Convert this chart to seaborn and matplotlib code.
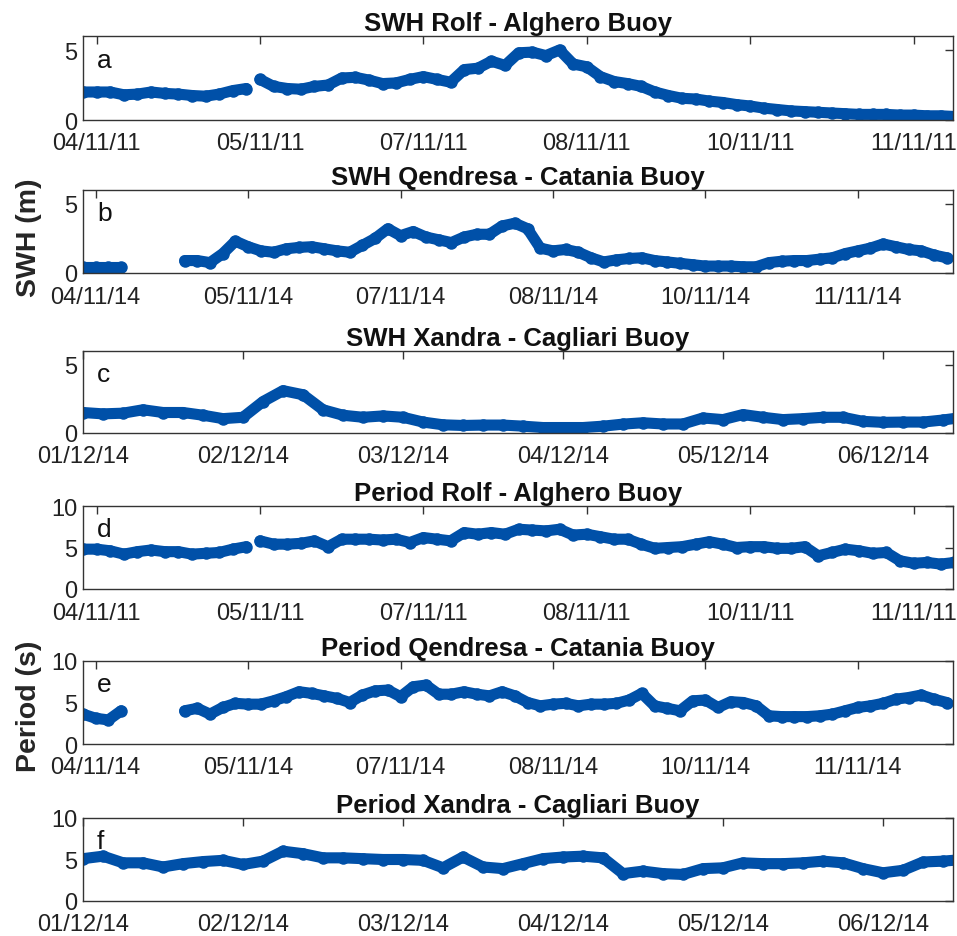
import numpy as np
import pandas as pd
import matplotlib
matplotlib.use('Agg')
import matplotlib.pyplot as plt
import matplotlib.dates as mdates
import seaborn as sns

# buoy records, one sample every 3 hours from the record start
STEP_H = 3

# Rolf - Alghero buoy (Nov 2011)
rolf_start = '2011-11-04 03:00'
rolf_seg_hours = [0, 39]
rolf_swh = [
    [2.0, 2.0, 2.0, 1.8, 1.85, 2.0, 1.9, 1.85, 1.75, 1.7, 1.85, 2.1, 2.25],
    [2.9, 2.4, 2.25, 2.2, 2.4, 2.5, 3.0, 3.05, 2.85, 2.6, 2.65, 2.9, 3.1, 2.9, 2.7,
     3.6, 3.7, 4.2, 3.9, 4.8, 4.85, 4.6, 5.0, 4.0, 3.8, 3.1, 2.75, 2.6, 2.4, 2.0,
     1.75, 1.55, 1.5, 1.35, 1.25, 1.1, 1.0, 0.85, 0.75, 0.65, 0.6, 0.55, 0.5, 0.45,
     0.4, 0.4, 0.4, 0.35, 0.35, 0.3, 0.3, 0.25],
]
rolf_period = [
    [4.8, 4.8, 4.6, 4.2, 4.5, 4.7, 4.5, 4.5, 4.2, 4.3, 4.4, 4.8, 5.1],
    [5.8, 5.4, 5.4, 5.5, 5.8, 5.1, 6.0, 6.0, 6.0, 5.9, 6.0, 5.6, 6.2, 6.0, 5.8,
     6.8, 6.6, 6.8, 6.6, 7.2, 7.1, 7.0, 7.2, 6.5, 6.6, 6.3, 6.0, 6.0, 5.4, 4.9,
     5.0, 5.1, 5.4, 5.7, 5.4, 5.0, 5.1, 5.1, 4.9, 4.9, 5.1, 4.0, 4.4, 4.8, 4.6,
     4.3, 4.4, 3.4, 3.1, 3.2, 3.0, 3.2],
]

# Qendresa - Catania buoy (Nov 2014)
qend_start = '2014-11-04 03:00'
qend_seg_hours = [0, 24]
qend_swh = [
    [0.4, 0.4, 0.4, 0.4],
    [0.9, 0.9, 0.75, 1.4, 2.3, 1.9, 1.6, 1.5, 1.75, 1.85, 1.9, 1.75, 1.6, 1.5, 2.0,
     2.5, 3.2, 2.7, 3.0, 2.6, 2.4, 2.2, 2.6, 2.8, 2.8, 3.4, 3.6, 3.2, 1.8, 1.6,
     1.7, 1.5, 1.1, 0.8, 0.95, 1.05, 1.1, 0.9, 0.8, 0.7, 0.6, 0.5, 0.5, 0.5, 0.45,
     0.45, 0.75, 0.85, 0.9, 0.9, 1.0, 1.1, 1.4, 1.6, 1.8, 2.1, 1.9, 1.7, 1.6, 1.3,
     1.1],
]
qend_period = [
    [3.6, 3.1, 2.9, 4.0],
    [4.0, 4.3, 3.6, 4.4, 4.9, 4.8, 4.8, 5.2, 5.7, 6.3, 6.1, 5.8, 5.5, 5.0, 5.9,
     6.4, 6.5, 5.7, 6.9, 7.1, 6.0, 6.0, 6.3, 6.0, 5.8, 6.3, 5.8, 5.0, 4.6, 4.8,
     4.9, 4.6, 4.8, 4.8, 4.9, 5.3, 6.1, 4.6, 4.3, 4.0, 5.2, 5.3, 4.4, 5.1, 5.0,
     4.6, 3.4, 3.3, 3.3, 3.3, 3.4, 3.6, 4.0, 4.4, 4.6, 4.9, 5.4, 5.6, 5.9, 5.4,
     5.0],
]

# Xandra - Cagliari buoy (Dec 2014)
xand_start = '2014-12-01 00:00'
xand_seg_hours = [0]
xand_swh = [
    [1.5, 1.4, 1.45, 1.7, 1.5, 1.5, 1.3, 1.05, 1.15, 2.3, 3.1, 2.8, 1.7, 1.3, 1.15,
     1.25, 1.15, 0.8, 0.6, 0.55, 0.58, 0.58, 0.5, 0.4, 0.4, 0.4, 0.5, 0.65, 0.75,
     0.66, 0.66, 1.1, 0.98, 1.35, 1.15, 0.98, 1.05, 1.15, 1.15, 0.85, 0.78, 0.8,
     0.8, 0.95, 1.15],
]
xand_period = [
    [5.1, 5.4, 4.6, 4.6, 4.1, 4.5, 4.75, 4.9, 4.4, 4.8, 6.0, 5.7, 5.2, 5.2, 5.1,
     5.0, 5.0, 4.9, 4.0, 5.3, 4.1, 3.9, 4.5, 5.1, 5.3, 5.4, 5.2, 3.3, 3.6, 3.3,
     3.2, 3.9, 4.0, 4.6, 4.5, 4.5, 4.6, 4.8, 4.6, 3.9, 3.4, 3.7, 4.7, 4.8, 5.0],
]

titles = ['SWH Rolf - Alghero Buoy', 'SWH Qendresa - Catania Buoy', 'SWH Xandra - Cagliari Buoy',
          'Period Rolf - Alghero Buoy', 'Period Qendresa - Catania Buoy', 'Period Xandra - Cagliari Buoy']
letters = ['a', 'b', 'c', 'd', 'e', 'f']

BLUE = '#0050A8'


def to_frame(start, seg_hours, segs):
    rows = []
    t0 = pd.Timestamp(start)
    for k, (h0, vals) in enumerate(zip(seg_hours, segs)):
        for i, v in enumerate(vals):
            rows.append((t0 + pd.Timedelta(hours=h0 + STEP_H * i), v, k))
    return pd.DataFrame(rows, columns=['time', 'value', 'seg'])


# x window (start, length in hours) and tick positions for each storm
rolf_axis = (rolf_start, 191.7, pd.date_range('2011-11-04 06:00', periods=6, freq='36h'))
qend_axis = (qend_start, 205.5, pd.date_range('2014-11-04 06:00', periods=6, freq='36h'))
xand_axis = (xand_start, 130.5, pd.date_range('2014-12-01 00:00', periods=6, freq='D'))

panels = [
    (to_frame(rolf_start, rolf_seg_hours, rolf_swh), rolf_axis, (0, 6), [0, 5]),
    (to_frame(qend_start, qend_seg_hours, qend_swh), qend_axis, (0, 6), [0, 5]),
    (to_frame(xand_start, xand_seg_hours, xand_swh), xand_axis, (0, 6), [0, 5]),
    (to_frame(rolf_start, rolf_seg_hours, rolf_period), rolf_axis, (0, 10), [0, 5, 10]),
    (to_frame(qend_start, qend_seg_hours, qend_period), qend_axis, (0, 10), [0, 5, 10]),
    (to_frame(xand_start, xand_seg_hours, xand_period), xand_axis, (0, 10), [0, 5, 10]),
]

sns.set_style('white')
plt.rcParams['font.family'] = ['Liberation Sans', 'DejaVu Sans']

fig = plt.figure(figsize=(9.57, 9.37), dpi=100)

# axes boxes in pixels (top, bottom) of the 957x937 figure
boxes = [(37, 121), (191, 274), (352, 434), (507, 590), (662, 745), (819, 902)]
W, H = 957, 937
left, right = 83, 953

for (df, (start, span, ticks), ylim, yticks), (top, bot), title, letter in zip(panels, boxes, titles, letters):
    ax = fig.add_axes([left / W, 1 - bot / H, (right - left) / W, (bot - top) / H])
    sns.lineplot(data=df, x='time', y='value', units='seg', estimator=None, ax=ax,
                 color=BLUE, lw=8, marker='o', ms=9, mec=BLUE, mew=0,
                 solid_capstyle='round', solid_joinstyle='round')
    t0 = pd.Timestamp(start)
    ax.set_xlim(t0, t0 + pd.Timedelta(hours=span))
    ax.set_xticks(ticks)
    ax.xaxis.set_major_formatter(mdates.DateFormatter('%d/%m/%y'))
    ax.set_ylim(*ylim)
    ax.set_yticks(yticks)
    ax.set_xlabel('')
    ax.set_ylabel('')
    ax.set_title(title, fontsize=18.5, fontweight='bold', pad=4, color='#111111')
    ax.text(0.016, 0.633, letter, transform=ax.transAxes, fontsize=19, va='baseline', color='#111111')
    ax.tick_params(direction='in', top=True, right=True, length=6, width=1,
                   labelsize=17, colors='#333333', labelcolor='#222222')
    ax.tick_params(axis='x', pad=9)
    ax.tick_params(axis='y', pad=4)
    for s in ax.spines.values():
        s.set_visible(True)
        s.set_color('#333333')
        s.set_linewidth(1)

fig.text(0.030, 0.746, 'SWH (m)', rotation=90, fontsize=20.5, fontweight='bold', ha='center', va='center')
fig.text(0.030, 0.246, 'Period (s)', rotation=90, fontsize=20.5, fontweight='bold', ha='center', va='center')

fig.savefig('out.png', dpi=100)
